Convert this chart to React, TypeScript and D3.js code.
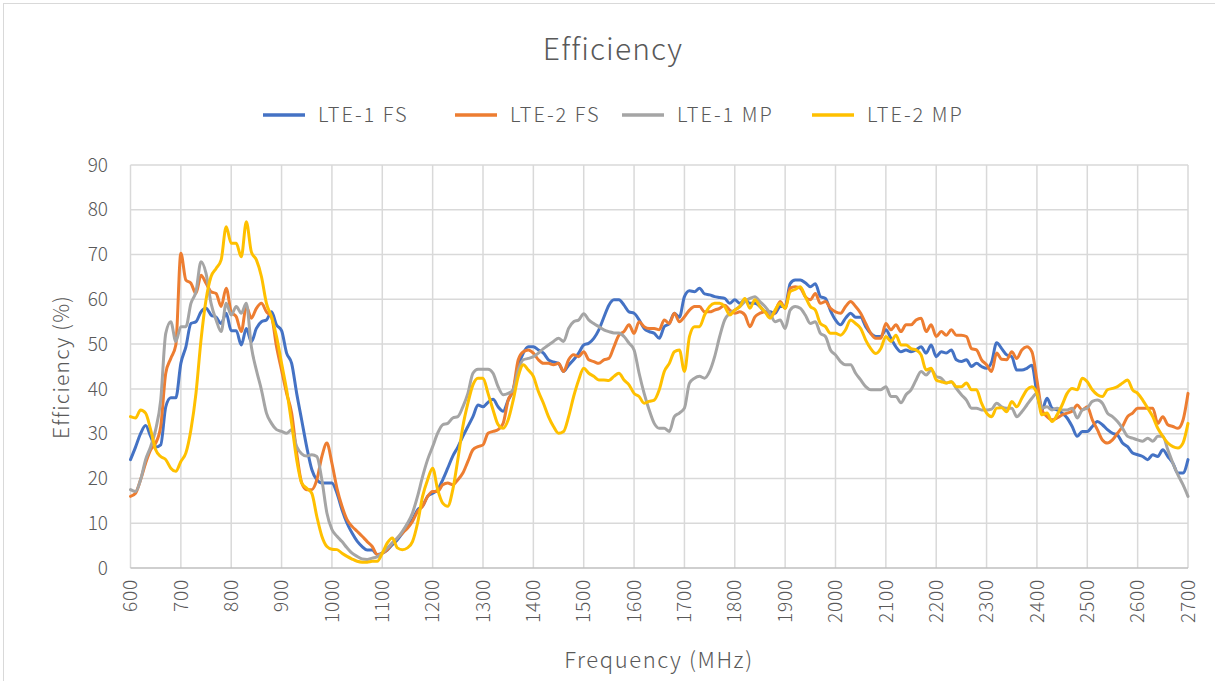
import * as d3 from 'd3';

// frequency grid (MHz), 10 MHz steps
const freqs = d3.range(600, 2701, 10);
const xTicks = d3.range(600, 2701, 100);
const yTicks = [0, 10, 20, 30, 40, 50, 60, 70, 80, 90];

const lte1FS = [
  24.2, 27, 30, 31.8, 29.4, 27, 27.5, 36, 38, 38,
  45.7, 49.4, 54.6, 55, 57.2, 58, 56.5, 56, 54.6, 56.9,
  53, 53, 49.8, 53.5, 50.5, 53.5, 55, 55.4, 57.2, 54.3,
  53, 48, 45.7, 39, 33, 27, 22, 19.7, 19, 19,
  19, 16.7, 13, 10, 7.8, 6, 4.8, 4, 4, 3,
  3.3, 4, 5.2, 6.3, 7.8, 9.3, 10.8, 13, 13.8, 16,
  16.7, 17.5, 19.7, 22.3, 25, 27, 29.4, 31.6, 33.8, 36.4,
  36, 37, 37.7, 36, 35, 37.5, 39.8, 45, 48, 49.4,
  49.4, 48.7, 48, 46.5, 46, 45.7, 43.9, 45.3, 46.5, 48,
  49.8, 50.2, 51.3, 53.2, 56, 58.7, 59.9, 59.9, 58.7, 57.2,
  56.9, 55.4, 53.5, 52.8, 52.4, 51.3, 53.9, 54.6, 56.9, 56,
  60.6, 61.9, 61.7, 62.5, 61.2, 61, 60.6, 60.4, 60.2, 59.1,
  59.9, 59.1, 59.9, 59.1, 59.1, 58.4, 57.2, 57.2, 56.9, 58.4,
  58.4, 63.5, 64.3, 64.3, 63.7, 62.8, 63.5, 60.6, 60.2, 57.5,
  55.4, 54.3, 55.8, 56.9, 56, 56, 53.9, 52.4, 51.7, 51.7,
  53.2, 51.3, 49.4, 48.3, 48.7, 48.3, 48.7, 49.4, 48, 49.8,
  47.2, 48.3, 48, 48.7, 46.5, 46.1, 46.5, 45, 45.7, 45,
  44.6, 46, 50.3, 49, 47.6, 47.2, 44.2, 44.2, 44.6, 45.3,
  39, 35.3, 37.9, 35.7, 35.3, 34.6, 33.5, 31.6, 29.4, 30.5,
  30.5, 31.6, 32.7, 32, 30.9, 30.1, 29.7, 27.9, 27.1, 25.7,
  25.3, 24.9, 24.2, 25.3, 24.9, 26.4, 24.9, 23.4, 21.2, 21.2,
  24.2,
];

const lte2FS = [
  16, 16.7, 19.7, 23.4, 26.4, 27.9, 31.6, 43.5, 46.8, 49.8,
  70.3, 64.3, 63.6, 61.3, 65.4, 63.6, 61.7, 61.3, 58.4, 62.5,
  57.2, 56.1, 52.8, 58.4, 55.8, 58, 59.1, 57.2, 56.1, 49.4,
  44.2, 39, 34.6, 25.7, 19, 17.5, 17.5, 19.7, 24.9, 27.9,
  23.4, 17.8, 13.8, 10.8, 9.3, 8.2, 7.1, 5.9, 4.8, 3,
  3.3, 4.1, 5.6, 6.7, 7.8, 8.9, 10.4, 12.6, 13.8, 16,
  17.1, 17.1, 18.6, 19, 18.6, 19.7, 21.2, 23.8, 26.4, 27.1,
  27.5, 30.1, 30.5, 30.9, 32.3, 37.5, 39.8, 46.5, 48.3, 48.7,
  48, 46.5, 45.7, 45.7, 45.4, 45.7, 43.9, 46.5, 47.6, 47.2,
  48.3, 46.5, 46.1, 45.7, 46.5, 46.8, 49.4, 52, 52.8, 54.3,
  52.4, 55, 53.9, 53.5, 53.5, 53.2, 55.4, 54.6, 56.9, 55,
  56.1, 57.6, 58.4, 58.4, 57.2, 57.2, 57.6, 58, 58.7, 57.6,
  56.9, 57.2, 56.5, 53.9, 56.1, 56.9, 57.2, 56.1, 57.2, 59.5,
  58, 62.5, 62.8, 62.5, 60.6, 59.9, 61.3, 59.1, 59.5, 58,
  57.2, 56.9, 58.4, 59.5, 58.4, 56.9, 54.6, 52.4, 51.3, 51.3,
  54.6, 53.2, 54.3, 52.8, 54.3, 54.3, 55.4, 55.8, 52.8, 54.3,
  51.7, 52.8, 52, 53.2, 52, 52, 51.7, 49, 48.7, 46.5,
  45.4, 43.9, 48, 46.6, 46.5, 48.3, 46.8, 48.7, 49.4, 48.3,
  42, 35.3, 33.8, 33.1, 33.5, 34.2, 34.6, 35, 36.4, 35.3,
  36, 33.1, 30.9, 28.6, 27.9, 28.6, 30.1, 31.6, 33.8, 34.6,
  35.7, 35.7, 35.7, 35.7, 32.3, 33.8, 32, 31.6, 31.2, 33,
  39,
];

const lte1MP = [
  17.5, 17.1, 19.7, 24.2, 27.1, 30.9, 37.5, 52.4, 55, 50.6,
  53.9, 53.9, 59.1, 61.7, 68.4, 65.8, 59.1, 55.4, 52.8, 59.1,
  56.5, 58.4, 56.9, 59.1, 49.4, 44.2, 39.8, 34.6, 32.3, 30.9,
  30.5, 30.1, 30.9, 27.1, 25.5, 25, 25.3, 24.9, 19.7, 12.3,
  8.6, 7.1, 5.9, 4.5, 3.3, 2.6, 2, 1.9, 2.2, 2.5,
  3.3, 4.5, 5.6, 6.7, 8.2, 10, 12.3, 16, 20.4, 24.2,
  27.1, 30.1, 32, 32.3, 33.5, 33.8, 36, 39, 43.5, 44.4,
  44.4, 44.4, 43.5, 40.5, 38.7, 39, 39.8, 44.2, 46.5, 46.8,
  47.2, 48, 49, 49.8, 50.6, 51.3, 50.6, 53.5, 55, 55.4,
  56.8, 55.4, 54.6, 53.9, 53.2, 52.8, 52.5, 52.5, 51.7, 50.2,
  48.7, 43.5, 39, 35.3, 32.3, 31.2, 31.2, 30.5, 33.8, 34.6,
  35.7, 41.3, 42.4, 42.8, 42.4, 43.9, 47.2, 51.7, 55.4, 56.9,
  57.6, 58.4, 59.5, 60.2, 60.6, 59.5, 58.4, 56.9, 55, 55.4,
  53.5, 57.6, 58.4, 58, 56.5, 54.6, 55, 52.4, 51.7, 48.7,
  47.6, 46.1, 45.4, 45.4, 43.5, 42, 40.5, 39.8, 39.8, 39.8,
  40.5, 38.3, 38.3, 36.9, 38.7, 39.8, 42, 43.9, 43.1, 44.2,
  42.8, 42.4, 41.3, 41.6, 40.1, 38.7, 37.5, 35.7, 35.7, 35.3,
  35.3, 35.5, 36.8, 36, 35.7, 35.7, 33.8, 34.9, 36.4, 37.9,
  39, 35.7, 36, 35.3, 35.7, 35.3, 35.3, 35.7, 33.5, 35.3,
  35.7, 37.2, 37.5, 36.8, 34.6, 33.8, 32.7, 31.2, 29.4, 29,
  28.6, 28.3, 29, 28.3, 29.4, 29.4, 26.4, 23.4, 20.8, 18.6,
  16,
];

const lte2MP = [
  33.8, 33.5, 35.3, 34.6, 30.9, 26.4, 24.9, 24.2, 22.3, 21.6,
  23.8, 25.7, 30.9, 39, 50.9, 59.9, 65.1, 66.9, 68.8, 76.2,
  72.5, 72.5, 69.5, 77.3, 70.6, 68.8, 65.1, 59.1, 56.1, 51.7,
  45.7, 39.8, 32.3, 24.2, 19, 17.8, 16.7, 11.5, 7.1, 4.8,
  4.2, 4.1, 3.3, 2.6, 2, 1.5, 1.3, 1.3, 1.5, 1.5,
  3.3, 5.6, 6.7, 4.5, 4.1, 4.5, 5.9, 10, 16, 19.7,
  22.3, 17.5, 14.5, 13.8, 17.5, 24.2, 31.6, 36.8, 40.9, 42.4,
  42.4, 39, 35.3, 32, 31.2, 33.1, 37.5, 42.8, 45.4, 44.2,
  42.8, 39.4, 36.8, 33.8, 31.6, 30.1, 30.5, 33.8, 38.3, 42,
  44.6, 43.5, 42.8, 42, 42, 41.9, 42.8, 43.5, 42, 40.9,
  39, 38.3, 36.8, 37.2, 37.5, 39.8, 43.9, 45.7, 48.3, 48.7,
  43.9, 51.7, 53.9, 53.9, 56.5, 58.4, 59.1, 59.1, 58.4, 56.5,
  57.6, 58.4, 60.2, 58, 59.9, 58.4, 57.2, 55.8, 57.6, 59.1,
  58, 61.7, 62.2, 62.8, 60.6, 58.4, 57.6, 54.6, 53.9, 52.4,
  52.4, 52, 53.2, 55.4, 54.6, 53.5, 50.9, 49, 47.9, 49,
  51.7, 50.6, 52, 49.8, 49.8, 49, 48.7, 47.6, 44.2, 44.6,
  42, 41.6, 41.3, 41.6, 40.5, 40.5, 41.3, 39.8, 39.8, 36.8,
  34.6, 33.8, 35.7, 35.8, 34.9, 37.2, 36, 37.9, 39.8, 40.5,
  39, 34.2, 34.6, 32.7, 34.2, 36.4, 39, 40.1, 39.8, 42.4,
  41.6, 39.8, 38.7, 38.3, 39.8, 40.1, 40.5, 41.3, 42, 39.8,
  39, 37.5, 35.7, 33.8, 31.2, 29.4, 27.9, 27.1, 26.8, 27.9,
  32.3,
];

const seriesNames = ['LTE-1 FS', 'LTE-2 FS', 'LTE-1 MP', 'LTE-2 MP'];
const seriesValues = [lte1FS, lte2FS, lte1MP, lte2MP];
const seriesColors = ['#4472C4', '#ED7D31', '#A5A5A5', '#FFC000'];

const W = 1215;
const H = 681;
const margin = { top: 165, right: 27, bottom: 113, left: 130.5 };
const FONT = '"Noto Sans CJK SC", "Noto Sans", sans-serif';
const TEXT = '#595959';

export default function App() {
  const x = d3.scaleLinear().domain([600, 2700]).range([margin.left, W - margin.right]);
  const y = d3.scaleLinear().domain([0, 90]).range([H - margin.bottom, margin.top]);

  const line = d3.line<number>()
    .x((_, i) => x(freqs[i]))
    .y(d => y(d))
    .curve(d3.curveMonotoneX);

  const legendX = [263, 455, 622, 812];

  return (
    <svg width={W} height={H} style={{ position: 'absolute', left: 0, top: 0, background: '#fff' }}
      fontFamily={FONT} fontWeight={300}>
      <rect x={3.5} y={3.5} width={W + 10} height={H + 10} fill="#fff" stroke="#d9d9d9" />

      {/* title */}
      <text x={613} y={60} textAnchor="middle" fontSize={30} letterSpacing={1.1} fill={TEXT}>Efficiency</text>

      {/* legend */}
      {seriesNames.map((name, i) => (
        <g key={name} transform={`translate(${legendX[i]},115)`}>
          <line x1={0} x2={42} stroke={seriesColors[i]} strokeWidth={3.5} />
          <text x={55} dy="0.35em" fontSize={20} letterSpacing={2} fill={TEXT}>{name}</text>
        </g>
      ))}

      {/* grid */}
      {yTicks.filter(t => t > 0).map(t => (
        <line key={'h' + t} x1={x(600)} x2={x(2700)} y1={y(t)} y2={y(t)} stroke="#d9d9d9" strokeWidth={1.5} />
      ))}
      {xTicks.map(t => (
        <line key={'v' + t} x1={x(t)} x2={x(t)} y1={y(90)} y2={y(0)} stroke="#d9d9d9" strokeWidth={1.5} />
      ))}
      <line x1={x(600)} x2={x(2700)} y1={y(0)} y2={y(0)} stroke="#bfbfbf" strokeWidth={1.5} />

      {/* y tick labels */}
      {yTicks.map(t => (
        <text key={'yl' + t} x={108} y={y(t)} dy="0.35em" textAnchor="end" fontSize={19} fill={TEXT}>{t}</text>
      ))}

      {/* x tick labels */}
      {xTicks.map(t => (
        <text key={'xl' + t} transform={`translate(${x(t)},579) rotate(-90)`} dy="0.35em"
          textAnchor="end" fontSize={19} letterSpacing={0.8} fill={TEXT}>{t}</text>
      ))}

      {/* series */}
      {seriesValues.map((vals, i) => (
        <path key={seriesNames[i]} d={line(vals) ?? ''} fill="none" stroke={seriesColors[i]}
          strokeWidth={3} strokeLinejoin="round" strokeLinecap="round" />
      ))}

      {/* axis titles */}
      <text transform="translate(62,367) rotate(-90)" textAnchor="middle" dy="0.35em" fontSize={21}
        letterSpacing={1.2} fill={TEXT}>
        Efficiency (%)
      </text>
      <text x={659} y={660} textAnchor="middle" dy="0.35em" fontSize={22} letterSpacing={1.6} fill={TEXT}>
        Frequency (MHz)
      </text>
    </svg>
  );
}
